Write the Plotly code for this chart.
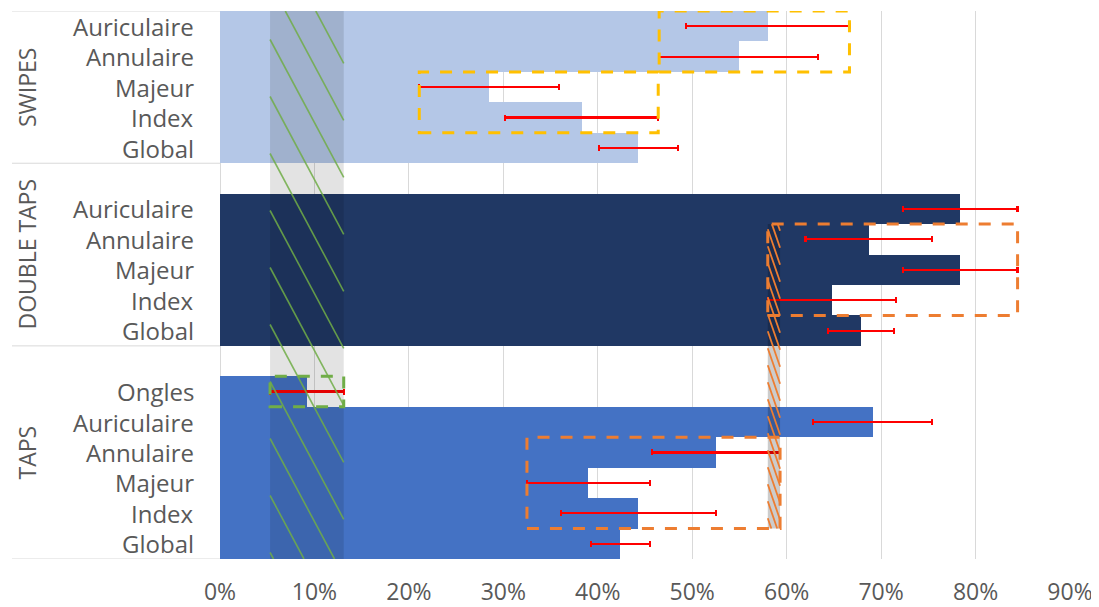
import math
import plotly.graph_objects as go

# ---------------- data ----------------
group_names = ["SWIPES", "DOUBLE TAPS", "TAPS"]          # top -> bottom

swipes_labels = ["Auriculaire", "Annulaire", "Majeur", "Index", "Global"]
swipes_values = [58.0, 54.9, 28.5, 38.3, 44.3]
swipes_errors = [8.65, 8.4, 7.4, 8.1, 4.2]

dtaps_labels = ["Auriculaire", "Annulaire", "Majeur", "Index", "Global"]
dtaps_values = [78.4, 68.7, 78.4, 64.8, 67.9]
dtaps_errors = [6.05, 6.7, 6.05, 6.8, 3.5]

taps_labels = ["Ongles", "Auriculaire", "Annulaire", "Majeur", "Index", "Global"]
taps_values = [9.2, 69.1, 52.5, 39.0, 44.3, 42.4]
taps_errors = [3.9, 6.3, 6.8, 6.5, 8.2, 3.1]

x_tick_values = [0, 10, 20, 30, 40, 50, 60, 70, 80, 90]

# highlighted comparisons: (group, labels inside the dashed box)
yellow_boxes = [("SWIPES", ["Auriculaire", "Annulaire"]),
                ("SWIPES", ["Majeur", "Index"])]
orange_boxes = [("DOUBLE TAPS", ["Annulaire", "Majeur", "Index"]),
                ("TAPS", ["Annulaire", "Majeur", "Index"])]
green_boxes = [("TAPS", ["Ongles"])]

# ---------------- styles / layout ----------------
BODY = 8                      # default page margin of the html body
W, H = 1099 - BODY, 607 - BODY
ML, MR, MT, MB = 220 - BODY, 29, 11 - BODY, 48
PW, PH = W - ML - MR, H - MT - MB
X_MAX = 90
FONT = "Open Sans"
TXT = "#595959"
GRID = "#D9D9D9"
colors = {"SWIPES": "#B4C7E7", "DOUBLE TAPS": "#203864", "TAPS": "#4472C4"}
YELLOW, ORANGE, GREEN = "#FFC000", "#ED7D31", "#70AD47"
DASH = "12px,11px"

groups = {
    "SWIPES": (swipes_labels, swipes_values, swipes_errors),
    "DOUBLE TAPS": (dtaps_labels, dtaps_values, dtaps_errors),
    "TAPS": (taps_labels, taps_values, taps_errors),
}

# assign rows bottom -> top, one blank row above every group except the top one
row_of = {}
group_span = {}
start = 0
bottom_up = list(reversed(group_names))
for gi, g in enumerate(bottom_up):
    labels = groups[g][0]
    n = len(labels)
    for i, lab in enumerate(reversed(labels)):
        row_of[(g, lab)] = start + i
    extra = 1 if gi < len(bottom_up) - 1 else 0
    group_span[g] = (start - 0.5, start + n - 0.5 + extra)
    start += n + extra
Y_MIN, Y_MAX = -0.5, start - 0.5


def x_to_px(x):
    return x * PW / X_MAX


def px_to_x(p):
    return p * X_MAX / PW


def row_to_px(r):
    return (Y_MAX - r) * PH / (Y_MAX - Y_MIN)


def px_to_row(p):
    return Y_MAX - p * (Y_MAX - Y_MIN) / PH


fig = go.Figure()
for g in group_names:
    labels, vals, errs = groups[g]
    fig.add_trace(go.Bar(
        orientation="h",
        x=vals,
        y=[row_of[(g, l)] for l in labels],
        width=1,
        marker=dict(color=colors[g], line=dict(width=0)),
        error_x=dict(type="data", array=errs, color="#FF0000",
                     thickness=2.2, width=3),
        name=g, showlegend=False,
    ))

shapes = []
annotations = []


def box_extent(g, labs):
    labels, vals, errs = groups[g]
    lo = min(vals[labels.index(l)] - errs[labels.index(l)] for l in labs)
    hi = max(vals[labels.index(l)] + errs[labels.index(l)] for l in labs)
    rows = [row_of[(g, l)] for l in labs]
    return lo, hi, min(rows) - 0.5, max(rows) + 0.5


def hatch(x0, x1, r_top, r_bot, slope, spacing, phase, color, width):
    xl, xr = x_to_px(x0), x_to_px(x1)
    yt, yb = row_to_px(r_top), row_to_px(r_bot)
    drop = slope * (xr - xl)
    kmin = -int(drop / spacing) - 2
    kmax = int((yb - yt) / spacing) + 2
    for k in range(kmin, kmax + 1):
        ya = yt + spacing * (k + phase)
        ye = ya + drop
        if ye < yt or ya > yb:
            continue
        sx, sy = xl, ya
        if ya < yt:
            sx, sy = xl + (yt - ya) / slope, yt
        ex, ey = xr, ye
        if ye > yb:
            ex, ey = xl + (yb - ya) / slope, yb
        if ex <= sx:
            continue
        shapes.append(dict(type="line", xref="x", yref="y", layer="above",
                           x0=px_to_x(sx), y0=px_to_row(sy),
                           x1=px_to_x(ex), y1=px_to_row(ey),
                           line=dict(color=color, width=width)))


# green band: confidence interval of "Ongles" across whole chart
gx0, gx1, _, _ = box_extent(*green_boxes[0])
shapes.append(dict(type="rect", xref="x", yref="y", layer="above",
                   x0=gx0, x1=gx1, y0=Y_MIN, y1=Y_MAX,
                   fillcolor="rgba(0,0,0,0.11)", line=dict(width=0)))
hatch(gx0, gx1, Y_MAX, Y_MIN, 1.87, 57, 0.5, "rgba(112,173,71,0.85)", 1.6)

# orange band: overlap between the two orange boxes
ob1 = box_extent(*orange_boxes[0])
ob2 = box_extent(*orange_boxes[1])
ox0, ox1 = ob1[0], ob2[1]
oy_top, oy_bot = ob1[3], ob2[2]
shapes.append(dict(type="rect", xref="x", yref="y", layer="above",
                   x0=ox0, x1=ox1, y0=oy_bot, y1=oy_top,
                   fillcolor="rgba(0,0,0,0.2)", line=dict(width=0)))
hatch(ox0, ox1, oy_top, oy_bot, 2.9, 17, 0.3, ORANGE, 1.8)

# dashed boxes
for col, blist in ((YELLOW, yellow_boxes), (ORANGE, orange_boxes), (GREEN, green_boxes)):
    for g, labs in blist:
        x0, x1, y0, y1 = box_extent(g, labs)
        shapes.append(dict(type="rect", xref="x", yref="y", layer="above",
                           x0=x0, x1=x1, y0=y0, y1=y1,
                           fillcolor="rgba(0,0,0,0)",
                           line=dict(color=col, width=3, dash=DASH)))

# category separators in the label area
sep_x0 = -(ML - (12 - BODY)) / PW
bounds = sorted({b for g in group_names for b in group_span[g]})
for b in bounds:
    shapes.append(dict(type="line", xref="paper", yref="y", layer="above",
                       x0=sep_x0, x1=0, y0=b, y1=b,
                       line=dict(color=GRID, width=1)))

# row labels
for g in group_names:
    for lab in groups[g][0]:
        annotations.append(dict(xref="paper", yref="y", x=-24 / PW, y=row_of[(g, lab)],
                                text=lab, showarrow=False, xanchor="right",
                                yanchor="middle",
                                font=dict(family=FONT, size=24, color=TXT)))
    lo, hi = group_span[g]
    annotations.append(dict(xref="paper", yref="y", x=-(ML - (27 - BODY)) / PW,
                            y=(lo + hi) / 2,
                            text=g, showarrow=False, textangle=-90,
                            xanchor="center", yanchor="middle",
                            font=dict(family=FONT, size=23, color=TXT)))

fig.update_layout(
    width=W, height=H,
    margin=dict(l=ML, r=MR, t=MT, b=MB, pad=0, autoexpand=False),
    paper_bgcolor="white", plot_bgcolor="white",
    barmode="overlay", bargap=0,
    shapes=shapes, annotations=annotations,
    xaxis=dict(range=[0, X_MAX], tickmode="array", tickvals=x_tick_values,
               ticktext=[f"{v}%" for v in x_tick_values],
               showgrid=True, gridcolor=GRID, gridwidth=1,
               zeroline=True, zerolinecolor=GRID, zerolinewidth=1,
               showline=False, ticks="", ticklabelstandoff=17, automargin=False,
               tickfont=dict(family=FONT, size=23, color=TXT)),
    yaxis=dict(range=[Y_MIN, Y_MAX], showticklabels=False, showgrid=False,
               zeroline=False, showline=False, ticks="", automargin=False),
)

fig.write_html("out.html")
